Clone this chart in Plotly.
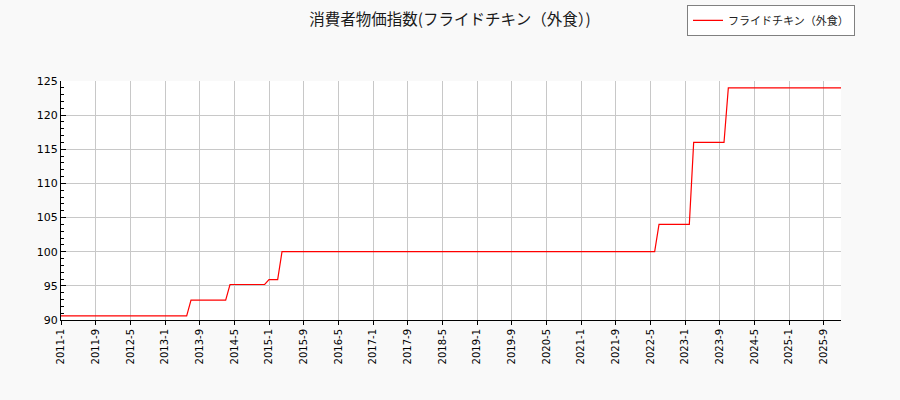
import plotly.graph_objects as go

# months where the index changes (before / after each step), index 0 = 2011-1
month_labels = [
    "2011-1", "2013-6", "2013-7", "2014-3", "2014-4", "2014-12", "2015-1",
    "2015-3", "2015-4", "2022-6", "2022-7", "2023-2", "2023-3", "2023-10",
    "2023-11", "2026-1",
]
price_index = [
    90.6, 90.6, 92.9, 92.9, 95.2, 95.2, 95.9,
    95.9, 100.0, 100.0, 104.0, 104.0, 116.0, 116.0,
    124.0, 124.0,
]

tick_labels = [
    "2011-1", "2011-9", "2012-5", "2013-1", "2013-9", "2014-5", "2015-1",
    "2015-9", "2016-5", "2017-1", "2017-9", "2018-5", "2019-1", "2019-9",
    "2020-5", "2021-1", "2021-9", "2022-5", "2023-1", "2023-9", "2024-5",
    "2025-1", "2025-9",
]


def month_index(label):
    y, m = label.split("-")
    return (int(y) - 2011) * 12 + int(m) - 1


x_vals = [month_index(m) for m in month_labels]
tick_vals = [month_index(t) for t in tick_labels]

fig = go.Figure()
fig.add_trace(go.Scatter(
    x=x_vals, y=price_index,
    mode="lines",
    line=dict(color="red", width=1.2),
    name="フライドチキン（外食）",
    text=month_labels,
    hovertemplate="%{text}: %{y}<extra></extra>",
))

fig.update_layout(
    width=900, height=400,
    paper_bgcolor="#f9f9f9",
    plot_bgcolor="white",
    margin=dict(l=61, r=59, t=81, b=80, autoexpand=False),
    title=dict(
        text="消費者物価指数(フライドチキン（外食）)",
        x=0.5, xanchor="center", y=0.952, yanchor="middle",
        font=dict(family="Noto Sans CJK JP", size=15.5, color="#1a1a1a"),
    ),
    showlegend=True,
    legend=dict(
        xref="container", yref="container",
        x=0.95, xanchor="right", y=0.988, yanchor="top",
        bgcolor="white", bordercolor="#808080", borderwidth=1,
        font=dict(family="Noto Sans CJK JP", size=11, color="#222"),
        itemwidth=30,
    ),
    xaxis=dict(
        range=[0, 180],
        tickvals=tick_vals, ticktext=tick_labels,
        tickangle=-90,
        ticks="outside", ticklen=4, tickcolor="black",
        showgrid=True, gridcolor="#c8c8c8", gridwidth=1,
        showline=True, linecolor="black", linewidth=1,
        zeroline=False,
        tickfont=dict(family="DejaVu Sans", size=10, color="black"),
    ),
    yaxis=dict(
        range=[90, 125],
        dtick=5,
        ticks="inside", ticklen=5, tickcolor="black",
        minor=dict(dtick=1, ticks="inside", ticklen=3, tickcolor="black", showgrid=False),
        showgrid=True, gridcolor="#c8c8c8", gridwidth=1,
        showline=True, linecolor="black", linewidth=1,
        zeroline=False,
        tickfont=dict(family="DejaVu Sans", size=11, color="black"),
    ),
)

fig.write_html(
    "out.html",
    config={"displayModeBar": False},
    post_script="document.body.style.margin = '0';",
)
